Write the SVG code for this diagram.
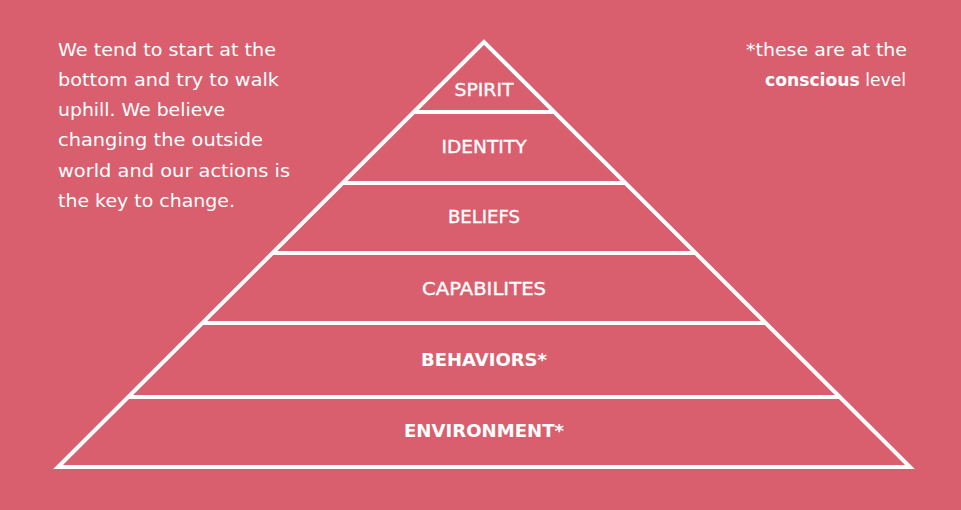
<svg xmlns="http://www.w3.org/2000/svg" width="961" height="510" viewBox="0 0 961 510">
<style>
.bg{fill:#DA5F6E}
.ln{stroke:#fff;stroke-width:4;fill:none;stroke-linejoin:miter}
.lbl{font-family:"DejaVu Sans","Open Sans",sans-serif;font-size:18px;fill:#fff;text-anchor:middle;stroke:#fff;stroke-width:0.35}
.b{font-weight:700;stroke-width:0}
.note{font-family:"DejaVu Sans","Open Sans",sans-serif;font-size:18px;fill:#fff}
</style>
<rect class="bg" x="0" y="0" width="961" height="510"/>
<g id="connectors">
<path class="ln" d="M484,42 L58,467 L910,467 Z"/>
<line class="ln" x1="413" y1="112" x2="555" y2="112"/>
<line class="ln" x1="342" y1="183" x2="626" y2="183"/>
<line class="ln" x1="272" y1="253" x2="696" y2="253"/>
<line class="ln" x1="202" y1="323" x2="766" y2="323"/>
<line class="ln" x1="128" y1="397" x2="840" y2="397"/>
</g>
<g id="spirit"><text class="lbl" x="484" y="96" textLength="59" lengthAdjust="spacingAndGlyphs">SPIRIT</text></g>
<g id="identity"><text class="lbl" x="484" y="153" textLength="85" lengthAdjust="spacingAndGlyphs">IDENTITY</text></g>
<g id="beliefs"><text class="lbl" x="484" y="223" textLength="72" lengthAdjust="spacingAndGlyphs">BELIEFS</text></g>
<g id="capabilites"><text class="lbl" x="484" y="295" textLength="124" lengthAdjust="spacingAndGlyphs">CAPABILITES</text></g>
<g id="behaviors"><text class="lbl b" x="484" y="366" textLength="126" lengthAdjust="spacingAndGlyphs">BEHAVIORS*</text></g>
<g id="environment"><text class="lbl b" x="484" y="437" textLength="160" lengthAdjust="spacingAndGlyphs">ENVIRONMENT*</text></g>
<g id="left-note">
<text class="note" x="58" y="56" textLength="218" lengthAdjust="spacingAndGlyphs">We tend to start at the</text>
<text class="note" x="58" y="86" textLength="221" lengthAdjust="spacingAndGlyphs">bottom and try to walk</text>
<text class="note" x="58" y="116" textLength="167" lengthAdjust="spacingAndGlyphs">uphill. We believe</text>
<text class="note" x="58" y="146" textLength="205" lengthAdjust="spacingAndGlyphs">changing the outside</text>
<text class="note" x="58" y="177" textLength="232" lengthAdjust="spacingAndGlyphs">world and our actions is</text>
<text class="note" x="58" y="207" textLength="177" lengthAdjust="spacingAndGlyphs">the key to change.</text>
</g>
<g id="right-note">
<text class="note" x="746" y="56" textLength="161" lengthAdjust="spacingAndGlyphs">*these are at the</text>
<text class="note" x="765" y="86" textLength="141" lengthAdjust="spacingAndGlyphs"><tspan font-weight="700">conscious</tspan> level</text>
</g>
</svg>
